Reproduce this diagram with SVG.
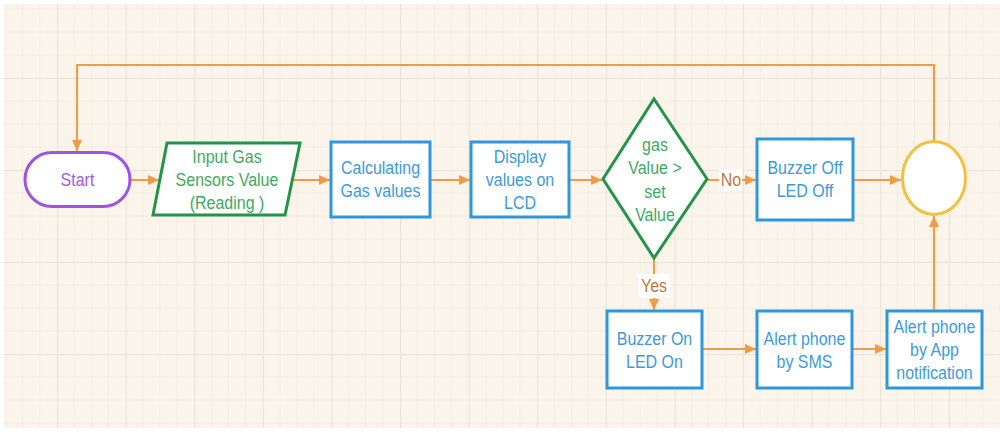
<svg xmlns="http://www.w3.org/2000/svg" width="1000" height="432" viewBox="0 0 1000 432">
<defs>
<pattern id="grid" x="57" y="78" width="68.6" height="92" patternUnits="userSpaceOnUse">
<path d="M17.15,0V92M34.3,0V92M51.45,0V92M0,23H68.6M0,46H68.6M0,69H68.6" stroke="#F3EDE3" stroke-width="1" fill="none"/>
<path d="M0.5,0V92M0,0.5H68.6" stroke="#E8E2D7" stroke-width="1.2" fill="none"/>
</pattern>
<marker id="arr" markerUnits="userSpaceOnUse" markerWidth="12" markerHeight="12" refX="11" refY="6" orient="auto">
<path d="M0,1 L11,6 L0,11 z" fill="#F39A45"/>
</marker>
</defs>
<style>
.t{font-family:"Liberation Sans",Arial,sans-serif;font-size:16px;text-anchor:middle}
.blue{fill:#fff;stroke:#2F97DD;stroke-width:3}
.bt{fill:#3C9BDB}
.gt{fill:#3FAA5F}
.c{fill:none;stroke:#F39A45;stroke-width:2}
.lbl{fill:#B97A3C}
</style>
<rect x="0" y="0" width="1000" height="432" fill="#fff"/>
<rect x="4" y="4" width="996" height="424" fill="#FAF4EA"/>
<rect x="4" y="4" width="996" height="424" fill="url(#grid)"/>

<g id="connectors">
<path class="c" d="M130,180H159" marker-end="url(#arr)"/>
<path class="c" d="M293,180H330" marker-end="url(#arr)"/>
<path class="c" d="M430,180H470" marker-end="url(#arr)"/>
<path class="c" d="M569,180H602" marker-end="url(#arr)"/>
<path class="c" d="M707,180H756" marker-end="url(#arr)"/>
<path class="c" d="M853,180H901" marker-end="url(#arr)"/>
<path class="c" d="M654,258V310" marker-end="url(#arr)"/>
<path class="c" d="M702,349H756" marker-end="url(#arr)"/>
<path class="c" d="M852,349H886" marker-end="url(#arr)"/>
<path class="c" d="M934,311V216" marker-end="url(#arr)"/>
<path class="c" d="M934,141V65H77V151" marker-end="url(#arr)"/>
<rect x="719" y="169" width="23" height="22" fill="#fff"/>
<text class="t lbl" x="731" y="186" transform="translate(0,186) scale(1,1.12) translate(0,-186)">No</text>
<rect x="638" y="274" width="32" height="24" fill="#fff"/>
<text class="t lbl" x="654" y="292" transform="translate(0,292) scale(1,1.12) translate(0,-292)">Yes</text>
</g>

<g id="start">
<rect x="25" y="152.5" width="105" height="54" rx="27" fill="#fff" stroke="#9D55E0" stroke-width="3"/>
<text class="t" x="77.5" y="186" fill="#A05CE0" transform="translate(0,186) scale(1,1.12) translate(0,-186)">Start</text>
</g>

<g id="input">
<polygon points="167,143 300,143 285,215 153,215" fill="#fff" stroke="#23944A" stroke-width="3"/>
<text class="t gt" x="227" y="163" transform="translate(0,163) scale(1,1.12) translate(0,-163)">Input Gas</text>
<text class="t gt" x="227" y="186" transform="translate(0,186) scale(1,1.12) translate(0,-186)">Sensors Value</text>
<text class="t gt" x="227" y="209" transform="translate(0,209) scale(1,1.12) translate(0,-209)">(Reading )</text>
</g>

<g id="calc">
<rect class="blue" x="331" y="142" width="99" height="75"/>
<text class="t bt" x="380.5" y="174" transform="translate(0,174) scale(1,1.12) translate(0,-174)">Calculating</text>
<text class="t bt" x="380.5" y="197" transform="translate(0,197) scale(1,1.12) translate(0,-197)">Gas values</text>
</g>

<g id="display">
<rect class="blue" x="471" y="142" width="98" height="75"/>
<text class="t bt" x="520" y="163" transform="translate(0,163) scale(1,1.12) translate(0,-163)">Display</text>
<text class="t bt" x="520" y="186" transform="translate(0,186) scale(1,1.12) translate(0,-186)">values on</text>
<text class="t bt" x="520" y="209" transform="translate(0,209) scale(1,1.12) translate(0,-209)">LCD</text>
</g>

<g id="decision">
<polygon points="654,99 707,179 654,258 603,179" fill="#fff" stroke="#23944A" stroke-width="3"/>
<text class="t gt" x="655" y="151" transform="translate(0,151) scale(1,1.12) translate(0,-151)">gas</text>
<text class="t gt" x="655" y="174" transform="translate(0,174) scale(1,1.12) translate(0,-174)">Value &gt;</text>
<text class="t gt" x="655" y="198" transform="translate(0,198) scale(1,1.12) translate(0,-198)">set</text>
<text class="t gt" x="655" y="221" transform="translate(0,221) scale(1,1.12) translate(0,-221)">Value</text>
</g>

<g id="buzzeroff">
<rect class="blue" x="757" y="139" width="96" height="81"/>
<text class="t bt" x="805" y="174" transform="translate(0,174) scale(1,1.12) translate(0,-174)">Buzzer Off</text>
<text class="t bt" x="805" y="197" transform="translate(0,197) scale(1,1.12) translate(0,-197)">LED Off</text>
</g>

<g id="join">
<ellipse cx="934" cy="178" rx="31.5" ry="36.5" fill="#fff" stroke="#F2C23C" stroke-width="3"/>
</g>

<g id="buzzeron">
<rect class="blue" x="607" y="311" width="95" height="77"/>
<text class="t bt" x="654.5" y="345" transform="translate(0,345) scale(1,1.12) translate(0,-345)">Buzzer On</text>
<text class="t bt" x="654.5" y="368" transform="translate(0,368) scale(1,1.12) translate(0,-368)">LED On</text>
</g>

<g id="sms">
<rect class="blue" x="757" y="311" width="95" height="77"/>
<text class="t bt" x="804.5" y="345" transform="translate(0,345) scale(1,1.12) translate(0,-345)">Alert phone</text>
<text class="t bt" x="804.5" y="368" transform="translate(0,368) scale(1,1.12) translate(0,-368)">by SMS</text>
</g>

<g id="app">
<rect class="blue" x="887" y="311" width="95" height="77"/>
<text class="t bt" x="934.5" y="333" transform="translate(0,333) scale(1,1.12) translate(0,-333)">Alert phone</text>
<text class="t bt" x="934.5" y="356" transform="translate(0,356) scale(1,1.12) translate(0,-356)">by App</text>
<text class="t bt" x="934.5" y="379" transform="translate(0,379) scale(1,1.12) translate(0,-379)">notification</text>
</g>
</svg>
